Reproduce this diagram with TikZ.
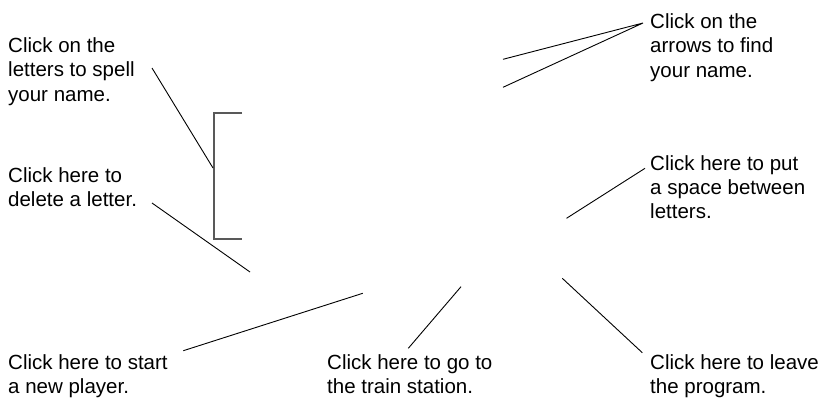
\documentclass[tikz,border=0pt]{standalone}
\usepackage{fontspec}
\setmainfont{Liberation Sans}
\begin{document}
\begin{tikzpicture}[x=1pt,y=-1pt,
  lbl/.style={anchor=base west,inner sep=0pt,align=left,font=\fontsize{20.5}{24.4}\selectfont},
  lead/.style={draw=black,line width=0.9pt},
  brk/.style={draw=black!65,line width=1.4pt}]
\useasboundingbox (0,0) rectangle (827,400);
% labels (anchored at last-line baseline)
\node[lbl] (spell) at (8,101.1) {Click on the\\letters to spell\\your name.};
\node[lbl] (del) at (8,206.4) {Click here to\\delete a letter.};
\node[lbl] (arrows) at (650,77.1) {Click on the\\arrows to find\\your name.};
\node[lbl] (space) at (650,218.8) {Click here to put\\a space between\\letters.};
\node[lbl] (player) at (8,393.7) {Click here to start\\a new player.};
\node[lbl] (train) at (327,393.7) {Click here to go to\\the train station.};
\node[lbl] (leave) at (650,393.7) {Click here to leave\\the program.};
% leader end points
\coordinate (s0) at (152,68);   \coordinate (s1) at (213,168);
\coordinate (d0) at (152,203);  \coordinate (d1) at (250,272);
\coordinate (a0) at (643,23);   \coordinate (a1) at (503,59.3); \coordinate (a2) at (503,87.3);
\coordinate (p0) at (645,168.3);\coordinate (p1) at (566.5,218.3);
\coordinate (n0) at (183.3,350.7); \coordinate (n1) at (362.7,293.3);
\coordinate (t0) at (408.3,348.3); \coordinate (t1) at (461,286.7);
\coordinate (l0) at (642.3,352.7); \coordinate (l1) at (562.3,278.3);
\coordinate (b0) at (242,113); \coordinate (b1) at (214,113); \coordinate (b2) at (214,239); \coordinate (b3) at (242,239);
% bracket
\draw[brk] (b0) -- (b1) -- (b2) -- (b3);
% leaders
\draw[lead] (s0) -- (s1);
\draw[lead] (d0) -- (d1);
\draw[lead] (a1) -- (a0) -- (a2);
\draw[lead] (p0) -- (p1);
\draw[lead] (n0) -- (n1);
\draw[lead] (t0) -- (t1);
\draw[lead] (l0) -- (l1);
\end{tikzpicture}
\end{document}
